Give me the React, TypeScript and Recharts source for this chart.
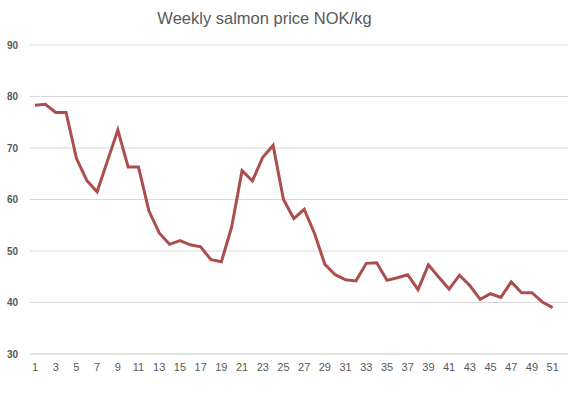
import React from 'react';
import { LineChart, Line, XAxis, YAxis, CartesianGrid } from 'recharts';

// weekly price, NOK per kg (week 52 has no reading yet)
const WEEKS = Array.from({ length: 52 }, (_, i) => `${i + 1}`);
const PRICES: (number | null)[] = [
  78.3, 78.5, 76.9, 76.9, 68.0, 63.7, 61.5, 67.5, 73.5, 66.3,
  66.3, 57.8, 53.5, 51.3, 52.0, 51.2, 50.8, 48.3, 47.9, 54.7,
  65.6, 63.6, 68.2, 70.5, 60.0, 56.3, 58.1, 53.4, 47.4, 45.4,
  44.4, 44.2, 47.6, 47.7, 44.3, 44.8, 45.4, 42.5, 47.3, 44.9,
  42.6, 45.3, 43.3, 40.6, 41.7, 41.0, 44.0, 41.9, 41.9, 40.1,
  39.0, null,
];
const Y_TICKS = [30, 40, 50, 60, 70, 80, 90];

const data = WEEKS.map((week, i) => ({ week, price: PRICES[i] }));

const GRID = '#d9d9d9';
const LABEL = '#595959';

export default function App() {
  return (
    <div style={{ position: 'absolute', left: 0, top: 0, width: 582, height: 408, background: '#fff' }}>
      <div style={{
        position: 'absolute', top: 9, left: 0, width: 529, textAlign: 'center',
        fontFamily: '"Liberation Sans", sans-serif', fontSize: 16.5, color: LABEL,
      }}>
        Weekly salmon price NOK/kg
      </div>
      <LineChart width={582} height={408} data={data}
        margin={{ top: 45, right: 14, bottom: 24, left: 0 }}>
        <CartesianGrid vertical={false} stroke={GRID} />
        <XAxis dataKey="week" interval={1} height={30} tickLine={false} tickSize={0} tickMargin={9}
          padding={{ left: 5, right: 5 }}
          axisLine={{ stroke: GRID }}
          tick={{ fill: LABEL, fontSize: 11, fontFamily: '"Liberation Sans", sans-serif' }} />
        <YAxis domain={[30, 90]} ticks={Y_TICKS} width={30} axisLine={false} tickLine={false}
          tickSize={0} tickMargin={12}
          tick={{ fill: LABEL, fontSize: 10, fontWeight: 'bold', fontFamily: '"Liberation Sans", sans-serif' }} />
        <Line type="linear" dataKey="price" stroke="#ad4e4e" strokeWidth={3} dot={false}
          isAnimationActive={false} />
      </LineChart>
    </div>
  );
}
